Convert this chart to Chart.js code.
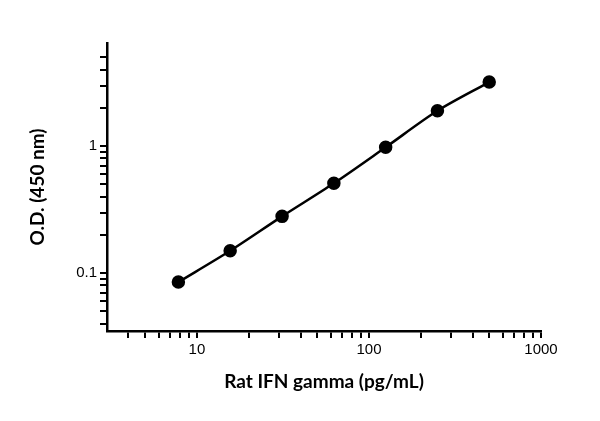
<!DOCTYPE html>
<html>
<head>
<meta charset="utf-8">
<script src="https://cdn.jsdelivr.net/npm/chart.js@4"></script>
<style>
  body { margin: 0; background: #fff; }
  #wrap { width: 600px; height: 421px; }
</style>
</head>
<body>
<div id="wrap"><canvas id="odChart"></canvas></div>
<script>
// standard concentrations (pg/mL) and O.D. readings
const conc = [7.8, 15.6, 31.25, 62.5, 125, 250, 500];
const od = [0.085, 0.15, 0.28, 0.51, 0.98, 1.9, 3.2];
const xTicks = [4, 5, 6, 7, 8, 9, 10, 20, 30, 40, 50, 60, 70, 80, 90, 100, 200, 300, 400, 500, 600, 700, 800, 900, 1000];
const xLabels = [10, 100, 1000];
const yTicks = [0.04, 0.05, 0.06, 0.07, 0.08, 0.09, 0.1, 0.2, 0.3, 0.4, 0.5, 0.6, 0.7, 0.8, 0.9, 1, 2, 3, 4, 5];
const yLabels = [0.1, 1];

const tickFont = { family: 'Arial, "Liberation Sans"', size: 15 };
const titleFont = { family: 'Lato, "DejaVu Sans"', size: 19, weight: 'bold' };

const ctx = document.getElementById('odChart').getContext('2d');
const odChart = new Chart(ctx, {
    type: 'scatter',
    data: {
        datasets: [{
            data: conc.map((c, i) => ({ x: c, y: od[i] })),
            showLine: true,
            tension: 0.3,
            borderColor: '#000',
            borderWidth: 2.5,
            backgroundColor: '#000',
            pointRadius: 5.5
        }]
    },
    options: {
        responsive: true,
        maintainAspectRatio: false,
        animation: false,
        layout: { padding: { top: 43, right: 59, left: 22, bottom: 24 } },
        plugins: { legend: { display: false }, tooltip: { enabled: false } },
        scales: {
            x: {
                type: 'logarithmic',
                min: 3,
                max: 1000,
                afterBuildTicks: s => { s.ticks = xTicks.map(v => ({ value: v })); },
                afterFit: s => { s.height = 66; },
                ticks: {
                    autoSkip: false,
                    maxRotation: 0,
                    color: '#000',
                    font: tickFont,
                    callback: v => xLabels.includes(v) ? String(v) : ''
                },
                grid: { drawOnChartArea: false, color: '#000', lineWidth: 2, tickLength: 7 },
                border: { color: '#000', width: 2.5 },
                title: { display: true, text: 'Rat IFN gamma (pg/mL)', color: '#000', font: titleFont, padding: { top: 4 } }
            },
            y: {
                type: 'logarithmic',
                min: 0.035,
                max: 6.5,
                afterBuildTicks: s => { s.ticks = yTicks.map(v => ({ value: v })); },
                afterFit: s => { s.width = 85; },
                ticks: {
                    autoSkip: false,
                    color: '#000',
                    font: tickFont,
                    callback: v => yLabels.includes(v) ? String(v) : ''
                },
                grid: { drawOnChartArea: false, color: '#000', lineWidth: 2, tickLength: 7 },
                border: { color: '#000', width: 2.5 },
                title: { display: true, text: 'O.D. (450 nm)', color: '#000', font: titleFont, padding: { bottom: 14 } }
            }
        }
    }
});
</script>
</body>
</html>
